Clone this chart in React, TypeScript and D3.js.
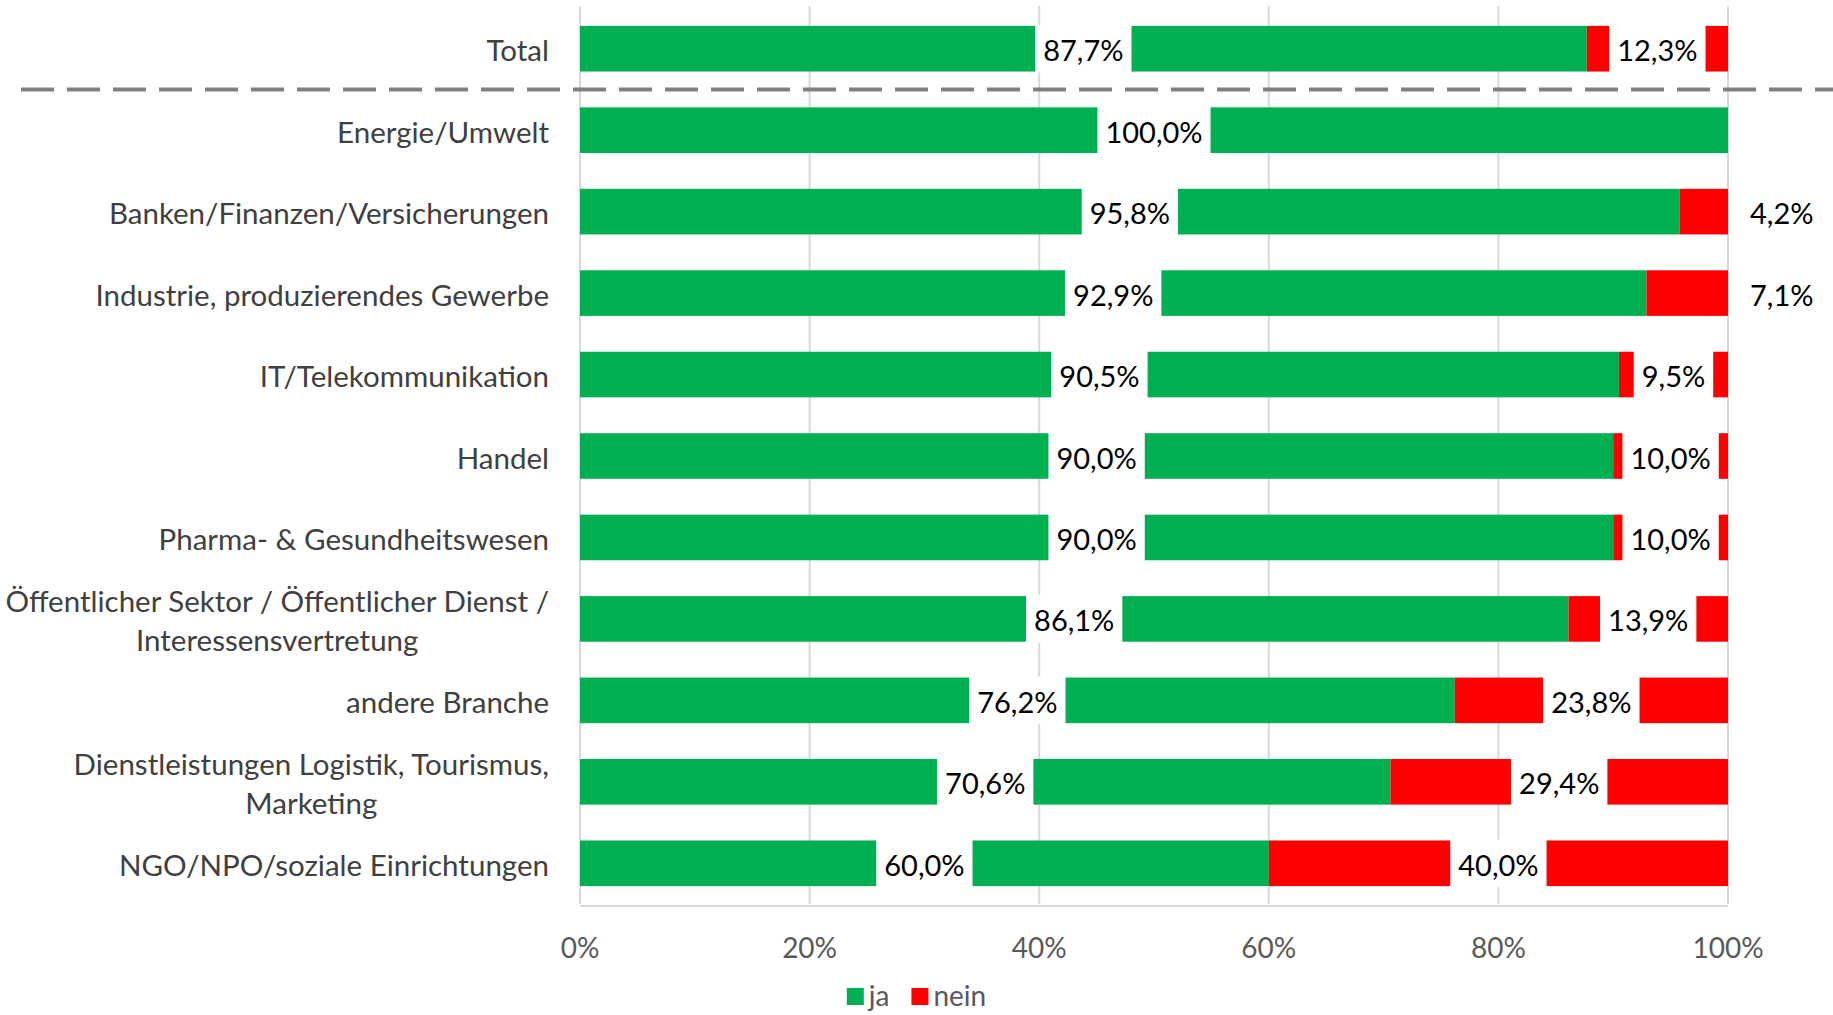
import React, { useRef, useEffect } from "react";
import * as d3 from "d3";

// Branchen (top to bottom)
const categories = [
  "Total",
  "Energie/Umwelt",
  "Banken/Finanzen/Versicherungen",
  "Industrie, produzierendes Gewerbe",
  "IT/Telekommunikation",
  "Handel",
  "Pharma- & Gesundheitswesen",
  "Öffentlicher Sektor / Öffentlicher Dienst /\nInteressensvertretung",
  "andere Branche",
  "Dienstleistungen Logistik, Tourismus,\nMarketing",
  "NGO/NPO/soziale Einrichtungen",
];
const jaValues = [87.7, 100.0, 95.8, 92.9, 90.5, 90.0, 90.0, 86.1, 76.2, 70.6, 60.0];
const neinValues = [12.3, 0, 4.2, 7.1, 9.5, 10.0, 10.0, 13.9, 23.8, 29.4, 40.0];
const xTicks = [0, 20, 40, 60, 80, 100];
const seriesNames = ["ja", "nein"];
const seriesColors = ["#00B050", "#FF0000"];

const W = 1833;
const H = 1015;
const FONT = "Lato, 'Open Sans', sans-serif";

function App() {
  const svgRef = useRef(null);

  useEffect(() => {
    const svg = d3.select(svgRef.current);
    svg.selectAll("*").remove();

    const left = 580;
    const right = 1728;
    const top = 8;
    const bottom = 904;

    const x = d3.scaleLinear().domain([0, 100]).range([left, right]);
    const y = d3
      .scaleBand()
      .domain(categories)
      .range([top, bottom])
      .paddingInner(0.44)
      .paddingOuter(0.22);

    // gridlines
    svg
      .append("g")
      .selectAll("line")
      .data(xTicks)
      .join("line")
      .attr("x1", (d) => x(d))
      .attr("x2", (d) => x(d))
      .attr("y1", top - 2)
      .attr("y2", bottom)
      .attr("stroke", "#d9d9d9")
      .attr("stroke-width", 2);
    svg
      .append("line")
      .attr("x1", left)
      .attr("x2", right)
      .attr("y1", bottom + 2)
      .attr("y2", bottom + 2)
      .attr("stroke", "#d9d9d9")
      .attr("stroke-width", 2);

    // x tick labels
    svg
      .append("g")
      .selectAll("text")
      .data(xTicks)
      .join("text")
      .attr("x", (d) => x(d))
      .attr("y", 947)
      .attr("text-anchor", "middle")
      .attr("dominant-baseline", "central")
      .attr("font-family", FONT)
      .attr("font-size", 28)
      .attr("fill", "#595959")
      .text((d) => d + "%");

    // stacked bars
    const rows = categories.map((c, i) => ({ cat: c, ja: jaValues[i], nein: neinValues[i] }));
    const bh = y.bandwidth();
    const fmt = (v) => v.toFixed(1).replace(".", ",") + "%";

    rows.forEach((r) => {
      const y0 = y(r.cat);
      const segs = [
        { v: r.ja, x0: 0, color: seriesColors[0] },
        { v: r.nein, x0: r.ja, color: seriesColors[1] },
      ];
      segs.forEach((s) => {
        if (s.v <= 0) return;
        const sx = x(s.x0);
        const sw = x(s.x0 + s.v) - x(s.x0);
        svg
          .append("rect")
          .attr("x", sx)
          .attr("y", y0)
          .attr("width", sw)
          .attr("height", bh)
          .attr("fill", s.color);

        const g = svg.append("g");
        const t = g
          .append("text")
          .attr("y", y0 + bh / 2 + 1)
          .attr("dominant-baseline", "central")
          .attr("font-family", FONT)
          .attr("font-size", 29)
          .attr("fill", "#000")
          .text(fmt(s.v));
        const tw = t.node().getComputedTextLength();
        const pad = 8;
        if (sw >= tw + 2 * pad + 10) {
          const cx = sx + sw / 2;
          g.insert("rect", "text")
            .attr("x", cx - tw / 2 - pad)
            .attr("y", y0 - 1)
            .attr("width", tw + 2 * pad)
            .attr("height", bh + 2)
            .attr("fill", "#fff");
          t.attr("x", cx).attr("text-anchor", "middle");
        } else {
          t.attr("x", sx + sw + 22).attr("text-anchor", "start");
        }
      });
    });

    // category labels (multi-line labels centred as a block, block right-aligned)
    const labelRight = 549;
    const lineH = 39;
    rows.forEach((r) => {
      const lines = r.cat.split("\n");
      const cy = y(r.cat) + bh / 2 + 1;
      const g = svg.append("g");
      const texts = lines.map((ln, k) =>
        g
          .append("text")
          .attr("y", cy + (k - (lines.length - 1) / 2) * lineH)
          .attr("dominant-baseline", "central")
          .attr("font-family", FONT)
          .attr("font-size", 29.5)
          .attr("fill", "#404040")
          .text(ln)
      );
      const widths = texts.map((t) => t.node().getComputedTextLength());
      const maxW = d3.max(widths);
      texts.forEach((t) => t.attr("x", labelRight - maxW / 2).attr("text-anchor", "middle"));
    });

    // dashed separator between Total and the branches
    const sepY = y(categories[0]) + y.step() - (y.step() - bh) / 2;
    svg
      .append("line")
      .attr("x1", 21)
      .attr("x2", W)
      .attr("y1", sepY)
      .attr("y2", sepY)
      .attr("stroke", "#808080")
      .attr("stroke-width", 4)
      .attr("stroke-dasharray", "33,13");

    // legend
    const lg = svg.append("g");
    let lx = 0;
    seriesNames.forEach((n, i) => {
      lg.append("rect")
        .attr("x", lx)
        .attr("y", 988)
        .attr("width", 17)
        .attr("height", 17)
        .attr("fill", seriesColors[i]);
      const t = lg
        .append("text")
        .attr("x", lx + 22)
        .attr("y", 995)
        .attr("dominant-baseline", "central")
        .attr("font-family", FONT)
        .attr("font-size", 28)
        .attr("fill", "#595959")
        .text(n);
      lx += 22 + t.node().getComputedTextLength() + 22;
    });
    const lw = lx - 22;
    lg.attr("transform", `translate(${W / 2 - lw / 2},0)`);
  }, []);

  return (
    <svg
      ref={svgRef}
      width={W}
      height={H}
      style={{ position: "absolute", left: 0, top: 0, background: "#fff" }}
    />
  );
}

export default App;
